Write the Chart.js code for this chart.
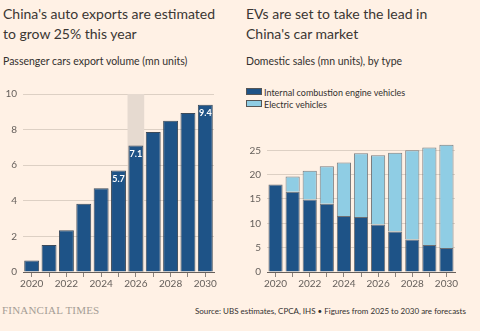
<!DOCTYPE html>
<html>
<head>
<meta charset="utf-8">
<script src="https://cdn.jsdelivr.net/npm/chart.js@4"></script>
<style>
  body { margin: 0; background: #fff1e5; width: 480px; height: 331px; overflow: hidden; position: relative; font-family: Lato, "Open Sans", sans-serif; color: #33302e; }
  .title { position: absolute; font-size: 14px; line-height: 20px; color: #3a3633; }
  .sub { position: absolute; font-size: 10.5px; color: #33302e; }
  .box { position: absolute; }
  .legend { position: absolute; left: 246px; font-size: 9px; color: #33302e; }
  .legend div { height: 12px; line-height: 12px; }
  .legend span { display: inline-block; width: 14px; height: 5px; border: 1px solid #555; margin-right: 2px; vertical-align: 1px; }
  .ft { position: absolute; left: 2px; top: 304px; font-family: "Liberation Serif", "DejaVu Serif", serif; font-size: 11px; color: #a59d95; letter-spacing: 0.2px; }
  .src { position: absolute; left: 195px; top: 306px; font-size: 8px; color: #33302e; }
</style>
</head>
<body>
<div class="title" style="left:3px; top:4px;">China's auto exports are estimated<br>to grow 25% this year</div>
<div class="sub" style="left:3px; top:55px;">Passenger cars export volume (mn units)</div>
<div class="title" style="left:246px; top:4px;">EVs are set to take the lead in<br>China's car market</div>
<div class="sub" style="left:246px; top:55px;">Domestic sales (mn units), by type</div>
<div class="legend" style="top:87px;">
  <div><span style="background:#1e5387"></span>Internal combustion engine vehicles</div>
  <div><span style="background:#8fcde4"></span>Electric vehicles</div>
</div>
<div class="box" style="left:0; top:82px; width:232px; height:215px;"><canvas id="exports"></canvas></div>
<div class="box" style="left:240px; top:132px; width:232px; height:165px;"><canvas id="sales"></canvas></div>
<div class="ft">FINANCIAL TIMES</div>
<div class="src">Source: UBS estimates, CPCA, IHS • Figures from 2025 to 2030 are forecasts</div>
<script>
const years = ['2020', '2021', '2022', '2023', '2024', '2025', '2026', '2027', '2028', '2029', '2030'];
const exportVolume = [0.65, 1.52, 2.35, 3.83, 4.7, 5.7, 7.1, 7.87, 8.5, 8.93, 9.4];
const exportTicks = [0, 2, 4, 6, 8, 10];
const labelledYears = ['2025', '2026', '2030'];
const highlightYear = '2026';
const iceSales = [18.0, 16.5, 14.9, 14.0, 11.5, 11.3, 9.75, 8.3, 6.7, 5.55, 4.95];
const evSales = [0.0, 3.1, 5.9, 7.75, 11.0, 13.1, 14.25, 16.2, 18.3, 20.05, 21.2];
const salesTicks = [0, 5, 10, 15, 20, 25];

const darkBlue = '#1e5387';
const lightBlue = '#8fcde4';
const gridColor = '#ddd0c4';
const axisColor = '#66605c';
const textColor = '#66605c';

Chart.defaults.font.family = 'Lato, "Open Sans", sans-serif';
Chart.defaults.animation = false;

function xAxis() {
  return {
    grid: { display: true, drawOnChartArea: false, drawTicks: true, tickLength: 5, color: '#8a837d', offset: false },
    border: { display: true, color: axisColor, width: 1 },
    ticks: {
      color: textColor, font: { size: 10 }, padding: 1, autoSkip: false, maxRotation: 0,
      callback: function(v, i) { return i % 2 === 0 ? this.getLabelForValue(v) : ''; }
    },
    afterFit: s => { s.height = 25; }
  };
}

function yAxis(max, tickValues, width) {
  return {
    min: 0, max: max,
    afterBuildTicks: s => { s.ticks = tickValues.map(v => ({ value: v })); },
    ticks: { color: textColor, font: { size: 10 }, padding: 6 },
    grid: { color: gridColor, drawTicks: false },
    border: { display: false },
    afterFit: s => { s.width = width; }
  };
}

// shaded column behind the highlighted year
const highlightPlugin = {
  id: 'highlight',
  beforeDatasetsDraw(chart) {
    const x = chart.scales.x, y = chart.scales.y;
    const cx = x.getPixelForValue(years.indexOf(highlightYear));
    const step = x.getPixelForValue(1) - x.getPixelForValue(0);
    const c = chart.ctx;
    c.save();
    c.fillStyle = '#e6dad0';
    c.fillRect(cx - step * 0.48, y.getPixelForValue(10), step * 0.96, y.getPixelForValue(0) - y.getPixelForValue(10));
    c.restore();
  }
};

// white value labels inside the top of selected bars
const valueLabels = {
  id: 'valueLabels',
  afterDatasetsDraw(chart) {
    const meta = chart.getDatasetMeta(0);
    const c = chart.ctx;
    c.save();
    c.fillStyle = '#ffffff';
    c.font = 'bold 9px Lato, "Open Sans", sans-serif';
    c.textAlign = 'center';
    c.textBaseline = 'middle';
    meta.data.forEach((bar, i) => {
      if (labelledYears.includes(years[i])) c.fillText(exportVolume[i].toFixed(1), bar.x, bar.y + 8.5);
    });
    c.restore();
  }
};

new Chart(document.getElementById('exports'), {
  type: 'bar',
  data: {
    labels: years,
    datasets: [{
      data: exportVolume,
      backgroundColor: darkBlue,
      borderColor: '#3c4a5a',
      borderWidth: 1,
      categoryPercentage: 1,
      barPercentage: 0.86
    }]
  },
  options: {
    responsive: true,
    maintainAspectRatio: false,
    layout: { padding: { top: 8, right: 18, left: 0, bottom: 0 } },
    plugins: { legend: { display: false }, tooltip: { enabled: false } },
    scales: {
      x: xAxis(),
      y: yAxis(10, exportTicks, 23)
    }
  },
  plugins: [highlightPlugin, valueLabels]
});

new Chart(document.getElementById('sales'), {
  type: 'bar',
  data: {
    labels: years,
    datasets: [
      { label: 'Internal combustion engine vehicles', data: iceSales, backgroundColor: darkBlue, borderColor: '#6f6f72', borderWidth: 1, categoryPercentage: 1, barPercentage: 0.83 },
      { label: 'Electric vehicles', data: evSales, backgroundColor: lightBlue, borderColor: '#7a7d80', borderWidth: 1, categoryPercentage: 1, barPercentage: 0.83 }
    ]
  },
  options: {
    responsive: true,
    maintainAspectRatio: false,
    layout: { padding: { top: 10, right: 17, left: 0, bottom: 0 } },
    plugins: { legend: { display: false }, tooltip: { enabled: false } },
    scales: {
      x: Object.assign(xAxis(), { stacked: true }),
      y: Object.assign(yAxis(26.3, salesTicks, 27), { stacked: true })
    }
  }
});
</script>
</body>
</html>
